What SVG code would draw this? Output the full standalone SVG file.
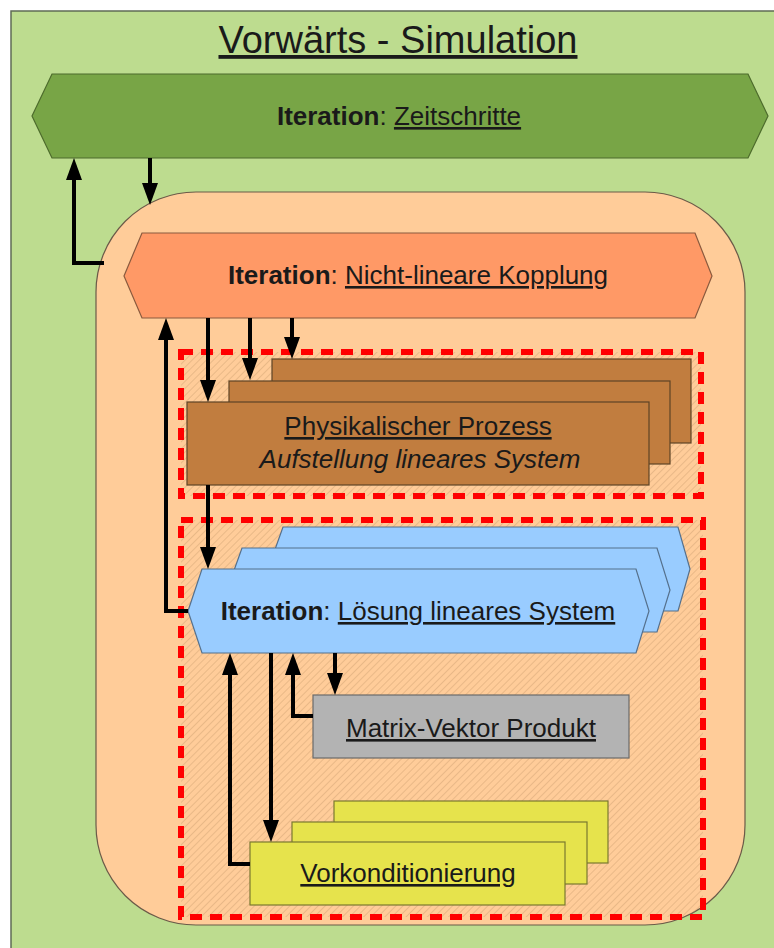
<svg xmlns="http://www.w3.org/2000/svg" width="774" height="948" viewBox="0 0 774 948">
<style>
text{font-family:"Liberation Sans",Arial,sans-serif;fill:#1a1a1a}
.lbl{font-size:26px;text-anchor:middle}
.b{font-weight:bold}
.u{text-decoration:underline}
.conn{fill:none;stroke:#000;stroke-width:4;marker-end:url(#ah)}
.dash{fill:none;stroke:#ff0000;stroke-width:6;stroke-dasharray:12 8}
.brown{fill:#c17d3f;stroke:#5e4326;stroke-width:1.2}
.blue{fill:#99ccff;stroke:#55708c;stroke-width:1.2}
.yel{fill:#e6e34c;stroke:#7a7830;stroke-width:1.2}
</style>
<defs>
<marker id="ah" markerUnits="userSpaceOnUse" markerWidth="22" markerHeight="16" viewBox="0 0 22 16" refX="14" refY="8" orient="auto">
<path d="M0,0 L22,8 L0,16 z" fill="#000"/>
</marker>
<pattern id="hatch" patternUnits="userSpaceOnUse" width="5" height="5" patternTransform="rotate(45)">
<line x1="0" y1="0" x2="0" y2="5" stroke="#c89a6c" stroke-width="1" stroke-opacity="0.8"/>
</pattern>
<clipPath id="peachClip">
<rect x="96" y="192" width="649" height="733" rx="100" ry="100"/>
</clipPath>
</defs>

<rect x="11" y="11" width="790" height="960" fill="#bddc8f" stroke="#5f6b55" stroke-width="1.5"/>

<g id="title">
<text x="398" y="53" style="font-size:38px;text-anchor:middle" class="u">Vorwärts - Simulation</text>
</g>

<g id="zeitschritte">
<path d="M32,116 L52,74 L748,74 L768,116 L748,158 L52,158 Z" fill="#78a546" stroke="#4d6b2c" stroke-width="1.2"/>
<text class="lbl" x="399" y="125"><tspan class="b">Iteration</tspan>: <tspan class="u">Zeitschritte</tspan></text>
</g>

<g id="kopplung-bereich">
<rect x="96" y="192" width="649" height="733" rx="100" ry="100" fill="#ffcc99" stroke="#6b5a48" stroke-width="1.2"/>
<g clip-path="url(#peachClip)">
<rect x="181" y="352" width="520" height="144" fill="url(#hatch)"/>
<rect x="181" y="520" width="522" height="397" fill="url(#hatch)"/>
</g>
<rect class="dash" x="181" y="352" width="520" height="144"/>
<rect class="dash" x="181" y="520" width="522" height="397"/>
</g>

<g id="nichtlinear">
<path d="M124,276 L142,233 L695,233 L712,276 L695,318 L142,318 Z" fill="#ff9966" stroke="#8a5a3e" stroke-width="1.2"/>
<text class="lbl" x="418" y="284"><tspan class="b">Iteration</tspan>: <tspan class="u">Nicht-lineare Kopplung</tspan></text>
</g>

<g id="prozess">
<rect class="brown" x="272" y="359" width="419" height="84"/>
<rect class="brown" x="229" y="381" width="441" height="83"/>
<rect class="brown" x="187" y="402" width="462" height="83"/>
<text class="lbl" x="418" y="435"><tspan class="u">Physikalischer Prozess</tspan></text>
<text class="lbl" x="420" y="468" font-style="italic">Aufstellung lineares System</text>
</g>

<g id="loesung">
<path class="blue" d="M268,569 L283,527 L678,527 L690,569 L678,611 L283,611 Z"/>
<path class="blue" d="M227,590 L242,548 L657,548 L670,590 L657,632 L242,632 Z"/>
<path class="blue" d="M188,611 L202,569 L636,569 L649,611 L636,653 L202,653 Z"/>
<text class="lbl" x="418" y="620"><tspan class="b">Iteration</tspan>: <tspan class="u">Lösung lineares System</tspan></text>
</g>

<g id="matvec">
<rect x="313" y="695" width="316" height="63" fill="#b3b3b3" stroke="#6a6a6a" stroke-width="1.2"/>
<text class="lbl" x="471" y="737"><tspan class="u">Matrix-Vektor Produkt</tspan></text>
</g>

<g id="vorkond">
<rect class="yel" x="334" y="801" width="274" height="62"/>
<rect class="yel" x="292" y="822" width="295" height="62"/>
<rect class="yel" x="250" y="842" width="315" height="63"/>
<text class="lbl" x="408" y="882"><tspan class="u">Vorkonditionierung</tspan></text>
</g>

<g id="connectors">
<path class="conn" d="M104,263 H74 V166"/>
<path class="conn" d="M150,158 V197"/>
<path class="conn" d="M208,318 V394"/>
<path class="conn" d="M250,318 V372"/>
<path class="conn" d="M292,318 V351"/>
<path class="conn" d="M188,611 H166 V326"/>
<path class="conn" d="M208,485 V561"/>
<path class="conn" d="M250,864 H230 V661"/>
<path class="conn" d="M271,653 V834"/>
<path class="conn" d="M313,716 H293 V661"/>
<path class="conn" d="M335,653 V687"/>
</g>
</svg>
